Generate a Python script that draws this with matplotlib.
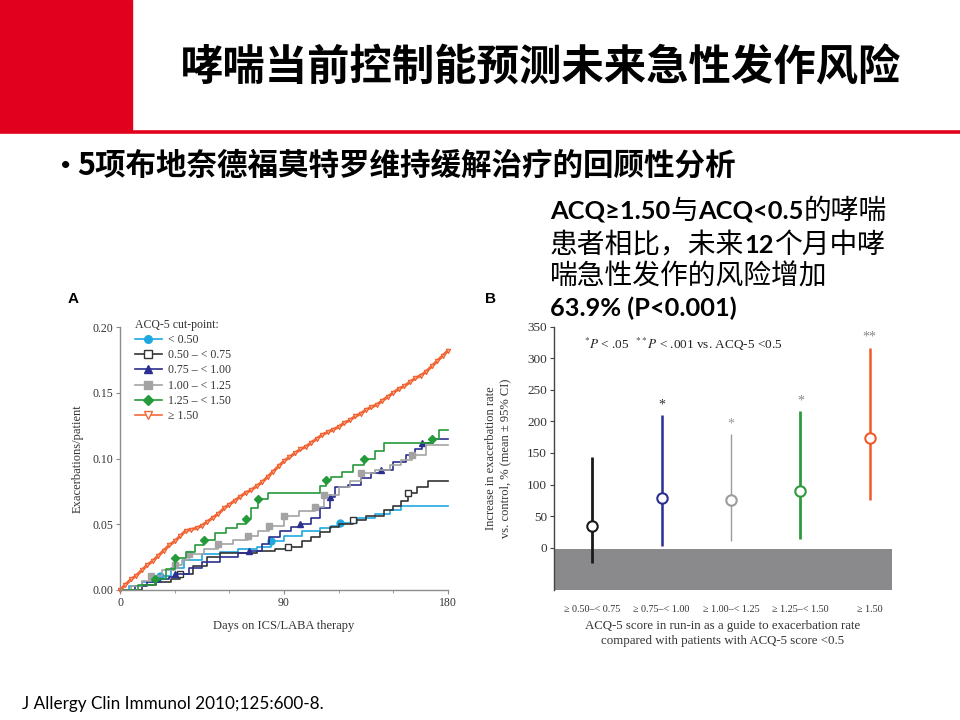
import matplotlib
matplotlib.use("Agg")
import matplotlib.pyplot as plt
from matplotlib.lines import Line2D
from matplotlib.patches import Rectangle
from matplotlib.ticker import MultipleLocator

CJK = ["Noto Sans CJK SC", "DejaVu Sans"]
LATIN = ["Lato", "DejaVu Sans"]
SERIF = ["Liberation Serif", "DejaVu Serif"]
plt.rcParams["mathtext.fontset"] = "stix"

# ---- slide text
title = "哮喘当前控制能预测未来急性发作风险"
bullet = "5项布地奈德福莫特罗维持缓解治疗的回顾性分析"
# (text, bold latin?) pieces of each line of the note
note_lines = [
    [("ACQ≥1.50", True), ("与", False), ("ACQ<0.5", True), ("的哮喘", False)],
    [("患者相比，未来", False), ("12", True), ("个月中哮", False)],
    [("喘急性发作的风险增加", False)],
    [("63.9% (P<0.001)", True)],
]
citation = "J Allergy Clin Immunol 2010;125:600-8."

# ---- panel A: cumulative exacerbations per patient (step curves)
a_labels = ["< 0.50", "0.50 – < 0.75", "0.75 – < 1.00", "1.00 – < 1.25",
            "1.25 – < 1.50", "≥ 1.50"]

cyan_days = [0, 5, 12, 18, 22, 28, 35, 45, 55, 65, 75, 83, 90, 100, 110, 116, 121,
             130, 140, 148, 154, 180]
cyan_vals = [0, 0.003, 0.006, 0.009, 0.011, 0.017, 0.023, 0.027, 0.029, 0.031, 0.033,
             0.037, 0.041, 0.045, 0.047, 0.049, 0.051, 0.055, 0.058, 0.061, 0.064, 0.064]
cyan_marks = [4, 11, 16]

black_days = [0, 12, 20, 28, 33, 40, 48, 55, 65, 75, 85, 92, 100, 105, 110, 115, 120,
              128, 135, 145, 150, 154, 158, 163, 169, 180]
black_vals = [0, 0.004, 0.006, 0.008, 0.012, 0.018, 0.025, 0.028, 0.028, 0.030, 0.031,
              0.033, 0.037, 0.040, 0.044, 0.048, 0.050, 0.053, 0.056, 0.061, 0.064,
              0.068, 0.074, 0.078, 0.083, 0.083]
black_marks = [4, 11, 17, 22]

navy_days = [0, 8, 15, 22, 27, 30, 38, 45, 55, 65, 71, 78, 82, 88, 94, 99, 105, 110,
             115, 118, 125, 132, 138, 143, 150, 157, 162, 166, 172, 180]
navy_vals = [0, 0.003, 0.006, 0.008, 0.010, 0.012, 0.017, 0.021, 0.025, 0.028, 0.030,
             0.035, 0.040, 0.045, 0.048, 0.050, 0.055, 0.062, 0.071, 0.078, 0.080,
             0.085, 0.089, 0.091, 0.097, 0.103, 0.107, 0.112, 0.115, 0.115]
navy_marks = [5, 10, 15, 18, 23, 27]

grey_days = [0, 6, 12, 17, 23, 30, 34, 38, 46, 54, 62, 70, 76, 82, 90, 98, 107, 112,
             120, 126, 132, 140, 148, 154, 160, 168, 180]
grey_vals = [0, 0.003, 0.007, 0.011, 0.015, 0.019, 0.023, 0.027, 0.031, 0.035, 0.038,
             0.041, 0.045, 0.049, 0.056, 0.060, 0.063, 0.072, 0.078, 0.083, 0.089,
             0.091, 0.095, 0.099, 0.103, 0.110, 0.110]
grey_marks = [3, 5, 7, 9, 11, 13, 14, 16, 17, 20, 24]

green_days = [0, 10, 19, 25, 30, 36, 41, 46, 52, 58, 64, 69, 72, 76, 81, 110, 113, 116,
              122, 128, 134, 140, 145, 171, 175, 180]
green_vals = [0, 0.004, 0.008, 0.016, 0.024, 0.029, 0.034, 0.038, 0.043, 0.047, 0.050,
              0.054, 0.062, 0.069, 0.074, 0.079, 0.084, 0.086, 0.090, 0.095, 0.100,
              0.106, 0.112, 0.115, 0.122, 0.122]
green_marks = [2, 4, 7, 11, 13, 16, 20, 23]

orange_days = list(range(0, 181, 3))
orange_vals = [0.000, 0.004, 0.008, 0.011, 0.015, 0.019, 0.022, 0.026, 0.030, 0.034,
               0.037, 0.041, 0.045, 0.046, 0.047, 0.049, 0.052, 0.055, 0.058, 0.062,
               0.065, 0.068, 0.071, 0.074, 0.076, 0.079, 0.082, 0.086, 0.090, 0.094,
               0.098, 0.101, 0.104, 0.107, 0.109, 0.112, 0.115, 0.118, 0.120, 0.122,
               0.124, 0.127, 0.129, 0.132, 0.134, 0.137, 0.139, 0.141, 0.144, 0.147,
               0.150, 0.153, 0.155, 0.158, 0.161, 0.163, 0.166, 0.170, 0.174, 0.178,
               0.182]

# ---- panel B: increase in exacerbation rate vs ACQ-5 < 0.5
b_labels = ["≥ 0.50–< 0.75", "≥ 0.75–< 1.00", "≥ 1.00–< 1.25", "≥ 1.25–< 1.50", "≥ 1.50"]
b_mean = [35, 79, 75, 89, 173]
b_low = [-25, 3, 10, 14, 75]
b_high = [143, 210, 180, 216, 317]
b_stars = ["", "*", "*", "*", "**"]
b_colors = ["#1a1a1a", "#2b2f8f", "#9c9c9c", "#2e9a40", "#f05a2a"]
b_widths = [2.0, 1.8, 1.0, 2.0, 1.8]
b_star_colors = ["#333333", "#333333", "#999999", "#888888", "#888888"]

fig = plt.figure(figsize=(9.6, 7.2), dpi=100)
renderer = fig.canvas.get_renderer()


def fx(px):
    return px / 960


def fy(px):
    return 1 - px / 720


# header block
fig.patches.append(Rectangle((0, fy(131)), fx(132), 131 / 720,
                             transform=fig.transFigure, color="#e1001e", zorder=0))
fig.add_artist(Line2D([0, 1], [fy(132)] * 2, transform=fig.transFigure,
                      color="#e1001e", lw=2.6))
fig.text(fx(541), fy(68), title, ha="center", va="center", fontsize=30.5,
         fontweight="bold", family=CJK)
fig.text(fx(60), fy(165), "•", ha="left", va="center", fontsize=14, family=LATIN)
fig.text(fx(77), fy(166), bullet, ha="left", va="center", fontsize=22,
         fontweight="bold", family=CJK)

# note: bold latin runs, regular chinese runs, laid out piece by piece
for base, pieces in zip([219, 253, 285, 316], note_lines):
    x = 550
    for txt, bold in pieces:
        t = fig.text(fx(x), fy(base), txt, ha="left", va="baseline",
                     fontsize=18.3 if bold else 20,
                     fontweight="bold" if bold else "normal",
                     family=LATIN if bold else CJK)
        x += t.get_window_extent(renderer).width

fig.text(fx(22), fy(704), citation, ha="left", va="center", fontsize=12.3,
         family=LATIN)
fig.text(fx(68), fy(299), "A", ha="left", va="center", fontsize=11,
         fontweight="bold", family=["Liberation Sans"])
fig.text(fx(485), fy(299), "B", ha="left", va="center", fontsize=11,
         fontweight="bold", family=["Liberation Sans"])

# ---- panel A
ax = fig.add_axes([fx(120), fy(590), 328 / 960, 263 / 720])
series = [
    (cyan_days, cyan_vals, cyan_marks, "#1fa8e0", "o", "#1fa8e0"),
    (black_days, black_vals, black_marks, "#333333", "s", "white"),
    (navy_days, navy_vals, navy_marks, "#2b2f90", "^", "#2b2f90"),
    (grey_days, grey_vals, grey_marks, "#a3a3a3", "s", "#a3a3a3"),
    (green_days, green_vals, green_marks, "#249a3a", "D", "#249a3a"),
]
handles = []
for (d, v, m, c, mk, fc), lab in zip(series, a_labels[:5]):
    ax.plot(d, v, drawstyle="steps-post", color=c, lw=1.2, marker=mk, markevery=m,
            markersize=5 if mk != "D" else 4.5, markerfacecolor=fc, markeredgecolor=c,
            clip_on=False)
    handles.append(Line2D([], [], color=c, lw=1.2, marker=mk, markersize=5.5,
                          markerfacecolor=fc, markeredgecolor=c, label=lab))
ax.plot(orange_days, orange_vals, color="#f26a3a", lw=2.2, marker="v", markersize=3.2,
        markerfacecolor="#f7a27e", markeredgecolor="#f05a2a", markeredgewidth=0.7,
        clip_on=False)
handles.append(Line2D([], [], color="#f26a3a", lw=1.2, marker="v", markersize=5.5,
                      markerfacecolor="white", markeredgecolor="#f26a3a",
                      label=a_labels[5]))

ax.set_xlim(0, 180)
ax.set_ylim(0, 0.2)
ax.set_xticks([0, 90, 180])
ax.xaxis.set_minor_locator(MultipleLocator(30))
ax.set_yticks([0, 0.05, 0.10, 0.15, 0.20])
ax.set_yticklabels(["0.00", "0.05", "0.10", "0.15", "0.20"])
for s in ["top", "right"]:
    ax.spines[s].set_visible(False)
for s in ["left", "bottom"]:
    ax.spines[s].set_color("#8c8c8c")
    ax.spines[s].set_linewidth(1.0)
ax.tick_params(axis="both", which="major", length=3, color="#8c8c8c", labelsize=8.5,
               labelcolor="#333333", pad=2)
ax.tick_params(axis="x", which="minor", length=2, color="#8c8c8c")
for t in ax.get_xticklabels() + ax.get_yticklabels():
    t.set_family(SERIF)
ax.set_ylabel("Exacerbations/patient", family=SERIF, fontsize=9, color="#333333",
              labelpad=6)
ax.set_xlabel("Days on ICS/LABA therapy", family=SERIF, fontsize=9, color="#333333",
              labelpad=8)
leg = ax.legend(handles=handles, title="ACQ-5 cut-point:", loc="upper left",
                bbox_to_anchor=(0.03, 1.05), frameon=False, handlelength=2.3,
                handletextpad=0.5, labelspacing=0.28, borderaxespad=0,
                alignment="left", prop={"family": SERIF, "size": 8.5})
leg.get_title().set_family(SERIF)
leg.get_title().set_fontsize(8.5)
leg.get_title().set_color("#333333")
for t in leg.get_texts():
    t.set_color("#333333")

# ---- panel B
bx = fig.add_axes([fx(554), fy(590), 338 / 960, 263.3 / 720])
pos = list(range(1, len(b_mean) + 1))
bx.set_xlim(0.45, 5.32)
bx.set_ylim(-67, 350)
bx.axhspan(-67, -2, color="#8a8a8c", zorder=0, lw=0)
for x, m, lo, hi, c, w, st, sc in zip(pos, b_mean, b_low, b_high, b_colors, b_widths,
                                      b_stars, b_star_colors):
    bx.vlines(x, lo, hi, color=c, lw=w, zorder=2)
    bx.plot(x, m, marker="o", markersize=7.5, markerfacecolor="white",
            markeredgecolor=c, markeredgewidth=1.5, zorder=3)
    if st:
        bx.text(x, hi + 6, st, ha="center", va="bottom", fontsize=10, color=sc,
                family=SERIF)
bx.text(0.88, 322, r"$^{*}P$ < .05  $^{**}P$ < .001 vs. ACQ-5 <0.5", ha="left",
        va="center", fontsize=9.5, color="#222222", family=SERIF)
bx.set_yticks(range(0, 351, 50))
bx.set_xticks(pos)
bx.set_xticklabels(b_labels, family=SERIF, fontsize=7.3, color="#333333")
bx.tick_params(axis="x", length=0, pad=11)
bx.tick_params(axis="y", length=3, labelsize=9.5, labelcolor="#333333", color="#444444",
               pad=2)
for t in bx.get_yticklabels():
    t.set_family(SERIF)
for s in ["top", "right", "bottom"]:
    bx.spines[s].set_visible(False)
bx.spines["left"].set_color("#444444")
bx.spines["left"].set_linewidth(1.0)
bx.set_ylabel("Increase in exacerbation rate\nvs. control, % (mean ± 95% CI)",
              family=SERIF, fontsize=9, color="#333333", labelpad=11, linespacing=1.3)
bx.set_xlabel("ACQ-5 score in run-in as a guide to exacerbation rate\n"
              "compared with patients with ACQ-5 score <0.5",
              family=SERIF, fontsize=9.3, color="#333333", labelpad=4, linespacing=1.35)

fig.savefig("out.png", dpi=100, facecolor="white")
